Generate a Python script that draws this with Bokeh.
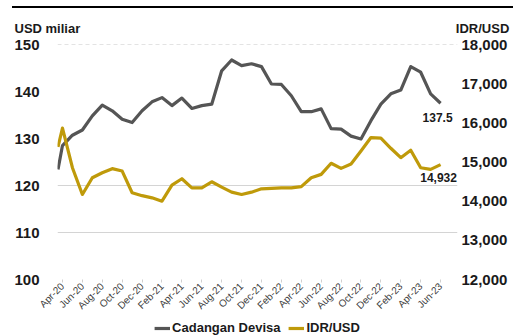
import math
from bokeh.plotting import figure
from bokeh.models import (Range1d, LinearAxis, FixedTicker, NumeralTickFormatter, Label,
                          Legend, LegendItem, Span, Title, Div)
from bokeh.layouts import column
from bokeh.embed import file_html
from bokeh.resources import INLINE

months = ["Apr-20", "May-20", "Jun-20", "Jul-20", "Aug-20", "Sep-20", "Oct-20", "Nov-20", "Dec-20",
          "Jan-21", "Feb-21", "Mar-21", "Apr-21", "May-21", "Jun-21", "Jul-21", "Aug-21", "Sep-21",
          "Oct-21", "Nov-21", "Dec-21", "Jan-22", "Feb-22", "Mar-22", "Apr-22", "May-22", "Jun-22",
          "Jul-22", "Aug-22", "Sep-22", "Oct-22", "Nov-22", "Dec-22", "Jan-23", "Feb-23", "Mar-23",
          "Apr-23", "May-23", "Jun-23"]

reserves = [128.5, 130.7, 131.8, 134.8, 137.1, 135.9, 134.1, 133.4, 135.9, 137.8, 138.7, 137.0,
            138.6, 136.4, 137.0, 137.3, 144.4, 146.7, 145.5, 145.9, 145.3, 141.6, 141.5, 139.1,
            135.7, 135.7, 136.3, 132.1, 132.0, 130.5, 129.9, 133.8, 137.3, 139.5, 140.3, 145.3,
            144.1, 139.5, 137.5]

idr_usd = [15864, 14854, 14171, 14598, 14726, 14830, 14769, 14214, 14140, 14085, 14000, 14410,
           14572, 14341, 14341, 14495, 14359, 14231, 14171, 14230, 14316, 14326, 14341, 14341,
           14370, 14598, 14684, 14967, 14838, 14950, 15282, 15624, 15608, 15351, 15110, 15300,
           14854, 14813, 14932]

# the series begin half a month before the first labelled month
start_reserve = 123.4
start_idr = 15385
start_pos = -0.45

left_ticks = [100, 110, 120, 130, 140, 150]
right_ticks = [12000, 13000, 14000, 15000, 16000, 17000, 18000]
series_names = ["Cadangan Devisa", "IDR/USD"]

FONT = "Liberation Sans"
GRAY = "#555555"
GOLD = "#BF9A0A"
INK = "#1a1a1a"

xs = [start_pos] + list(range(len(months)))
ys_res = [start_reserve] + reserves
ys_idr = [start_idr] + idr_usd

p = figure(width=513, height=311, output_backend="svg", toolbar_location=None,
           x_range=Range1d(-0.5, 39.7), y_range=Range1d(100, 150),
           min_border_left=57, min_border_right=56, min_border_top=36, min_border_bottom=40)
p.outline_line_color = None
p.background_fill_color = "white"
p.border_fill_color = "white"
p.extra_y_ranges = {"idr": Range1d(12000, 18000)}

# header: left and right axis units on one line
nbsp = "\u00a0"
p.add_layout(Title(text="USD miliar" + nbsp * 104 + "IDR/USD", align="left", offset=-43,
                   standoff=18, text_font=FONT, text_font_size="13px", text_font_style="bold",
                   text_color=INK), "above")

# grid
p.xgrid.grid_line_color = None
p.ygrid.ticker = FixedTicker(ticks=[110, 120])
p.ygrid.grid_line_color = "#d4d4d4"
p.ygrid.grid_line_width = 1
p.add_layout(Span(location=150, dimension="width", line_color="#c8c8c8", line_dash="4 3", line_width=1))

# axes
p.yaxis.ticker = FixedTicker(ticks=left_ticks)
ax_r = LinearAxis(y_range_name="idr", ticker=FixedTicker(ticks=right_ticks),
                  formatter=NumeralTickFormatter(format="0,0"))
p.add_layout(ax_r, "right")
for ax in (p.yaxis[0], ax_r):
    ax.axis_line_color = None
    ax.major_tick_line_color = None
    ax.minor_tick_line_color = None
    ax.major_label_text_font = FONT
    ax.major_label_text_font_size = "15px"
    ax.major_label_text_font_style = "bold"
    ax.major_label_text_color = INK
p.yaxis[0].major_label_standoff = 12
ax_r.major_label_standoff = -2

xa = p.xaxis[0]
xa.ticker = FixedTicker(ticks=list(range(0, len(months), 2)))
xa.major_label_overrides = {i: months[i] for i in range(0, len(months), 2)}
xa.major_label_orientation = math.pi / 4
xa.major_label_text_font = FONT
xa.major_label_text_font_size = "10px"
xa.major_label_text_color = "#404040"
xa.axis_line_color = None
xa.major_tick_line_color = "#d0d0d0"
xa.major_tick_out = 3
xa.major_tick_in = 0
xa.minor_tick_line_color = None
xa.major_label_standoff = 2

# lines
p.line(xs, ys_res, line_color=GRAY, line_width=3.2, line_join="round")
p.line(xs, ys_idr, y_range_name="idr", line_color=GOLD, line_width=3.2, line_join="round")

# end labels
p.add_layout(Label(x=len(months) - 1, y=reserves[-1], x_offset=-3, y_offset=-14,
                   text=f"{reserves[-1]:.1f}", text_align="center", text_baseline="middle",
                   text_font=FONT, text_font_size="12px", text_font_style="bold", text_color=INK))
p.add_layout(Label(x=len(months) - 1, y=idr_usd[-1], y_range_name="idr", x_offset=-2, y_offset=-13,
                   text=f"{idr_usd[-1]:,}", text_align="center", text_baseline="middle",
                   text_font=FONT, text_font_size="12px", text_font_style="bold", text_color=INK))

# legend strip below the chart: same series, drawn outside its visible range so only keys show
pl = figure(width=513, height=17, output_backend="svg", toolbar_location=None,
            x_axis_type=None, y_axis_type=None, x_range=Range1d(-1000, -999),
            y_range=Range1d(0, 1), min_border=0)
pl.outline_line_color = None
pl.grid.grid_line_color = None
lr1 = pl.line(xs, ys_res, line_color=GRAY, line_width=3.2)
lr2 = pl.line(xs, ys_idr, line_color=GOLD, line_width=3.2)
legend = Legend(items=[LegendItem(label=series_names[0], renderers=[lr1]),
                       LegendItem(label=series_names[1], renderers=[lr2])],
                orientation="horizontal", location="bottom_center", border_line_color=None,
                background_fill_alpha=0, label_text_font=FONT, label_text_font_size="13px",
                label_text_font_style="bold", label_text_color=INK,
                glyph_width=16, glyph_height=12, spacing=8, padding=0, margin=1, label_standoff=2)
pl.add_layout(legend)

top_rule = Div(text="", width=501, height=2, margin=(6, 0, 0, 12),
               styles={"background-color": "#000000"},
               stylesheets=[":host { background-color: #000000 !important; display: block; "
                            "min-height: 2px; }"])

layout = column(top_rule, p, pl, spacing=0)
open("out.html", "w").write(file_html(layout, INLINE))
